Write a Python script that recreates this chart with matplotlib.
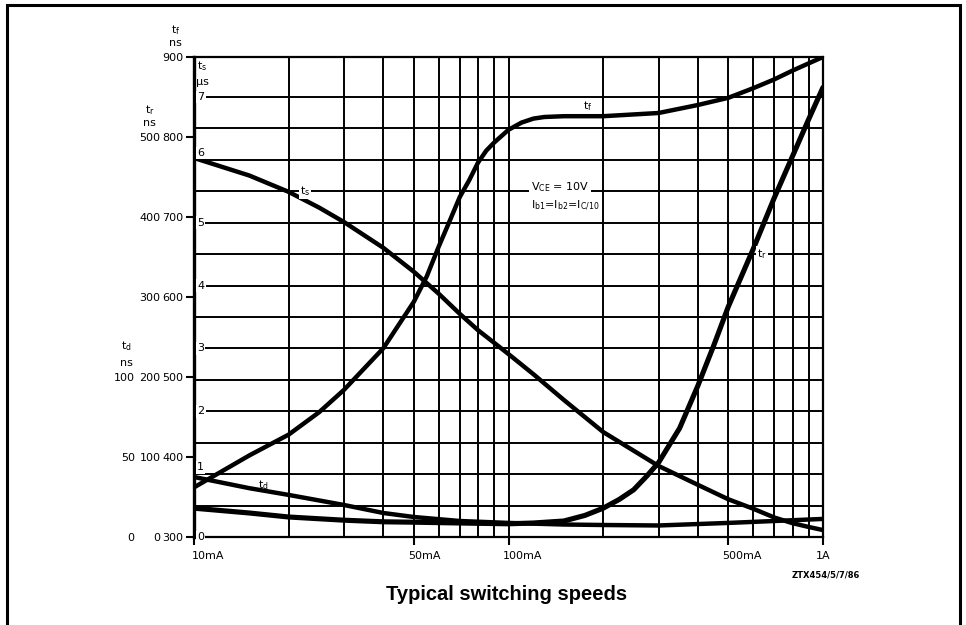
import numpy as np
import matplotlib
matplotlib.use("Agg")
import matplotlib.pyplot as plt
import matplotlib.transforms as mtrans
from matplotlib.patches import Rectangle

# ---------------- data ----------------
# collector current in mA
tf_ma = [10, 15, 20, 25, 30, 40, 50, 55, 60, 65, 70, 75, 80, 85, 90, 100, 110, 120, 130, 150, 200, 300, 400, 500, 600, 700, 800, 900, 1000]
tf_ns = [362, 402, 428, 456, 484, 536, 594, 626, 663, 695, 725, 746, 768, 783, 793, 809, 818, 823, 825, 826, 826, 830, 840, 849, 861, 872, 883, 892, 900]

ts_ma = [10, 15, 20, 25, 30, 40, 50, 60, 70, 80, 90, 100, 120, 150, 200, 300, 400, 500, 600, 700, 800, 900, 1000]
ts_us = [6.03, 5.75, 5.49, 5.24, 5.01, 4.60, 4.22, 3.87, 3.55, 3.29, 3.09, 2.91, 2.59, 2.18, 1.67, 1.13, 0.83, 0.60, 0.45, 0.31, 0.22, 0.16, 0.11]

tr_ma = [10, 15, 20, 30, 40, 50, 70, 100, 120, 150, 175, 200, 225, 250, 275, 300, 350, 400, 450, 500, 600, 700, 800, 900, 1000]
tr_ns = [36, 30, 25, 21, 19, 18.5, 17.5, 16.5, 17.5, 20, 27, 36, 47, 59, 76, 93, 136, 189, 240, 288, 360, 424, 476, 522, 562]

td_ma = [10, 15, 20, 30, 40, 50, 70, 100, 150, 200, 300, 500, 700, 1000]
td_ns = [37.5, 30.5, 26.3, 20, 15, 12.5, 10, 8.8, 7.8, 7.5, 7.2, 8.8, 10, 11.3]

# axis tick values
ts_ticks = [0, 1, 2, 3, 4, 5, 6, 7]
tf_ticks = [300, 400, 500, 600, 700, 800, 900]
tr_ticks = [0, 100, 200, 300, 400, 500]
td_ticks = [0, 50, 100]
x_ticks = [10, 50, 100, 500, 1000]
x_labels = ["10mA", "50mA", "100mA", "500mA", "1A"]
x_minor = [10, 20, 30, 40, 50, 60, 70, 80, 90, 100, 200, 300, 400, 500, 600, 700, 800, 900, 1000]

# ---------------- scale relations (main axis = t_s in µs) ----------------
NS_PER_US_F = 78.575     # t_f / t_r ns per µs of t_s scale
NS_PER_US_D = 39.2875    # t_d ns per µs of t_s scale

def tf2ts(v): return (np.asarray(v, float) - 300.0) / NS_PER_US_F
def ts2tf(v): return np.asarray(v, float) * NS_PER_US_F + 300.0
def tr2ts(v): return np.asarray(v, float) / NS_PER_US_F
def ts2tr(v): return np.asarray(v, float) * NS_PER_US_F
def td2ts(v): return np.asarray(v, float) / NS_PER_US_D
def ts2td(v): return np.asarray(v, float) * NS_PER_US_D

TS_TOP = float(tf2ts(900)) + 1e-6   # top of the chart (t_f = 900 ns)

W, H = 966, 625
def fx(px): return px / W
def fy(py): return 1 - py / H

plt.rcParams['font.family'] = ['DejaVu Sans']
fig = plt.figure(figsize=(W / 100, H / 100), dpi=100)
fig.patch.set_facecolor('white')

# outer frame (open at the bottom)
fig.add_artist(Rectangle((fx(7), fy(700)), fx(960) - fx(7), fy(5) - fy(700),
                         transform=fig.transFigure, fill=False, lw=2.2,
                         ec='black', clip_on=False))

ax = fig.add_axes([fx(194), fy(537), fx(823) - fx(194), fy(57) - fy(537)])
ax.set_xscale('log')
ax.set_xlim(10, 1000)
ax.set_ylim(0, TS_TOP)

# grid
ax.set_xticks(x_minor, minor=True)
ax.xaxis.set_minor_formatter(matplotlib.ticker.NullFormatter())
ax.set_yticks(np.arange(0.5, 7.01, 0.5))
ax.set_yticklabels([])
ax.tick_params(axis='y', length=0)
ax.tick_params(axis='x', which='minor', length=0)
ax.grid(True, which='both', axis='x', color='black', lw=1.4)
ax.grid(True, which='major', axis='y', color='black', lw=1.4)
ax.set_axisbelow(True)

# x ticks
ax.set_xticks(x_ticks)
ax.set_xticklabels(x_labels, fontsize=8)
ax.tick_params(axis='x', which='major', length=6, width=1.5, pad=4, direction='out')
for lab in ax.get_xticklabels():
    if lab.get_text() == "1A":
        lab.set_horizontalalignment('center')
    else:
        lab.set_horizontalalignment('left')
        off = -2 if lab.get_text() == "10mA" else -6
        lab.set_transform(lab.get_transform() +
                          mtrans.ScaledTranslation(off / 100, 0, fig.dpi_scale_trans))

for s in ['top', 'right', 'bottom']:
    ax.spines[s].set_linewidth(1.6)
ax.spines['left'].set_linewidth(2.4)

# curves
lw = 3.2
kw = dict(color='black', solid_capstyle='round', solid_joinstyle='round', zorder=3)
ax.plot(tf_ma, tf2ts(tf_ns), lw=lw, **kw)
ax.plot(ts_ma, ts_us, lw=lw, **kw)
ax.plot(tr_ma, tr2ts(tr_ns), lw=lw + 0.5, **kw)
ax.plot(td_ma, td2ts(td_ns), lw=lw, **kw)

# t_s labels inside the axis
bx = mtrans.blended_transform_factory(ax.transAxes, ax.transData)
for v in ts_ticks:
    va = 'bottom' if v in (1, 6) else 'center'
    ax.text(0.005, v + (0.03 if va == 'bottom' else 0), str(v), transform=bx,
            fontsize=8, ha='left', va=va, zorder=4,
            bbox=dict(boxstyle='square,pad=0.12', fc='white', ec='none'))

# t_f scale (left, with ticks)
sf = ax.secondary_yaxis('left', functions=(ts2tf, tf2ts))
sf.set_yticks(tf_ticks)
sf.set_yticklabels([str(v) for v in tf_ticks], fontsize=8)
sf.tick_params(length=6, width=1.5, pad=1.5)
sf.spines['left'].set_visible(False)

# t_r scale
sr = ax.secondary_yaxis(-0.051, functions=(ts2tr, tr2ts))
sr.set_yticks(tr_ticks)
sr.set_yticklabels([str(v) for v in tr_ticks], fontsize=8)
sr.tick_params(length=0, pad=1)
for s in sr.spines.values():
    s.set_visible(False)

# t_d scale
sd = ax.secondary_yaxis(-0.092, functions=(ts2td, td2ts))
sd.set_yticks(td_ticks)
sd.set_yticklabels([str(v) for v in td_ticks], fontsize=8)
sd.tick_params(length=0, pad=1)
for s in sd.spines.values():
    s.set_visible(False)

# axis unit labels
fig.text(fx(176), fy(30), r't$_\mathregular{f}$', fontsize=8, ha='center', va='center')
fig.text(fx(175), fy(43), 'ns', fontsize=8, ha='center', va='center')
fig.text(fx(197), fy(66), r't$_\mathregular{s}$', fontsize=8, ha='left', va='center')
fig.text(fx(196), fy(82), 'µs', fontsize=8, ha='left', va='center')
fig.text(fx(150), fy(110), r't$_\mathregular{r}$', fontsize=8, ha='center', va='center')
fig.text(fx(149), fy(123), 'ns', fontsize=8, ha='center', va='center')
fig.text(fx(126), fy(346), r't$_\mathregular{d}$', fontsize=8, ha='center', va='center')
fig.text(fx(126), fy(363), 'ns', fontsize=8, ha='center', va='center')

# curve labels
wb = dict(boxstyle='square,pad=0.1', fc='white', ec='none')
ax.text(178, 6.86, r't$_\mathregular{f}$', fontsize=8, ha='center', va='center', zorder=4)
ax.text(22.5, 5.5, r't$_\mathregular{s}$', fontsize=8, ha='center', va='center', zorder=4, bbox=wb)
ax.text(640, 4.5, r't$_\mathregular{r}$', fontsize=8, ha='center', va='center', zorder=4, bbox=wb)
ax.text(16.6, 0.83, r't$_\mathregular{d}$', fontsize=8, ha='center', va='center', zorder=4)

# conditions
ax.text(118, 5.57, r'V$_\mathregular{CE}$ = 10V', fontsize=8, ha='left', va='center',
        zorder=4, bbox=dict(boxstyle='square,pad=0.15', fc='white', ec='none'))
ax.text(118, 5.27, r'I$_\mathregular{b1}$=I$_\mathregular{b2}$=I$_\mathregular{C/10}$', fontsize=8,
        ha='left', va='center', zorder=4,
        bbox=dict(boxstyle='square,pad=0.15', fc='white', ec='none'))

fig.text(fx(826), fy(575), 'ZTX454/5/7/86', fontsize=6, fontweight='bold', ha='center', va='center')
fig.text(fx(507), fy(594), 'Typical switching speeds', fontsize=14.5, fontweight='bold',
         family='Liberation Sans', ha='center', va='center')

fig.savefig('out.png', dpi=100, facecolor='white')
